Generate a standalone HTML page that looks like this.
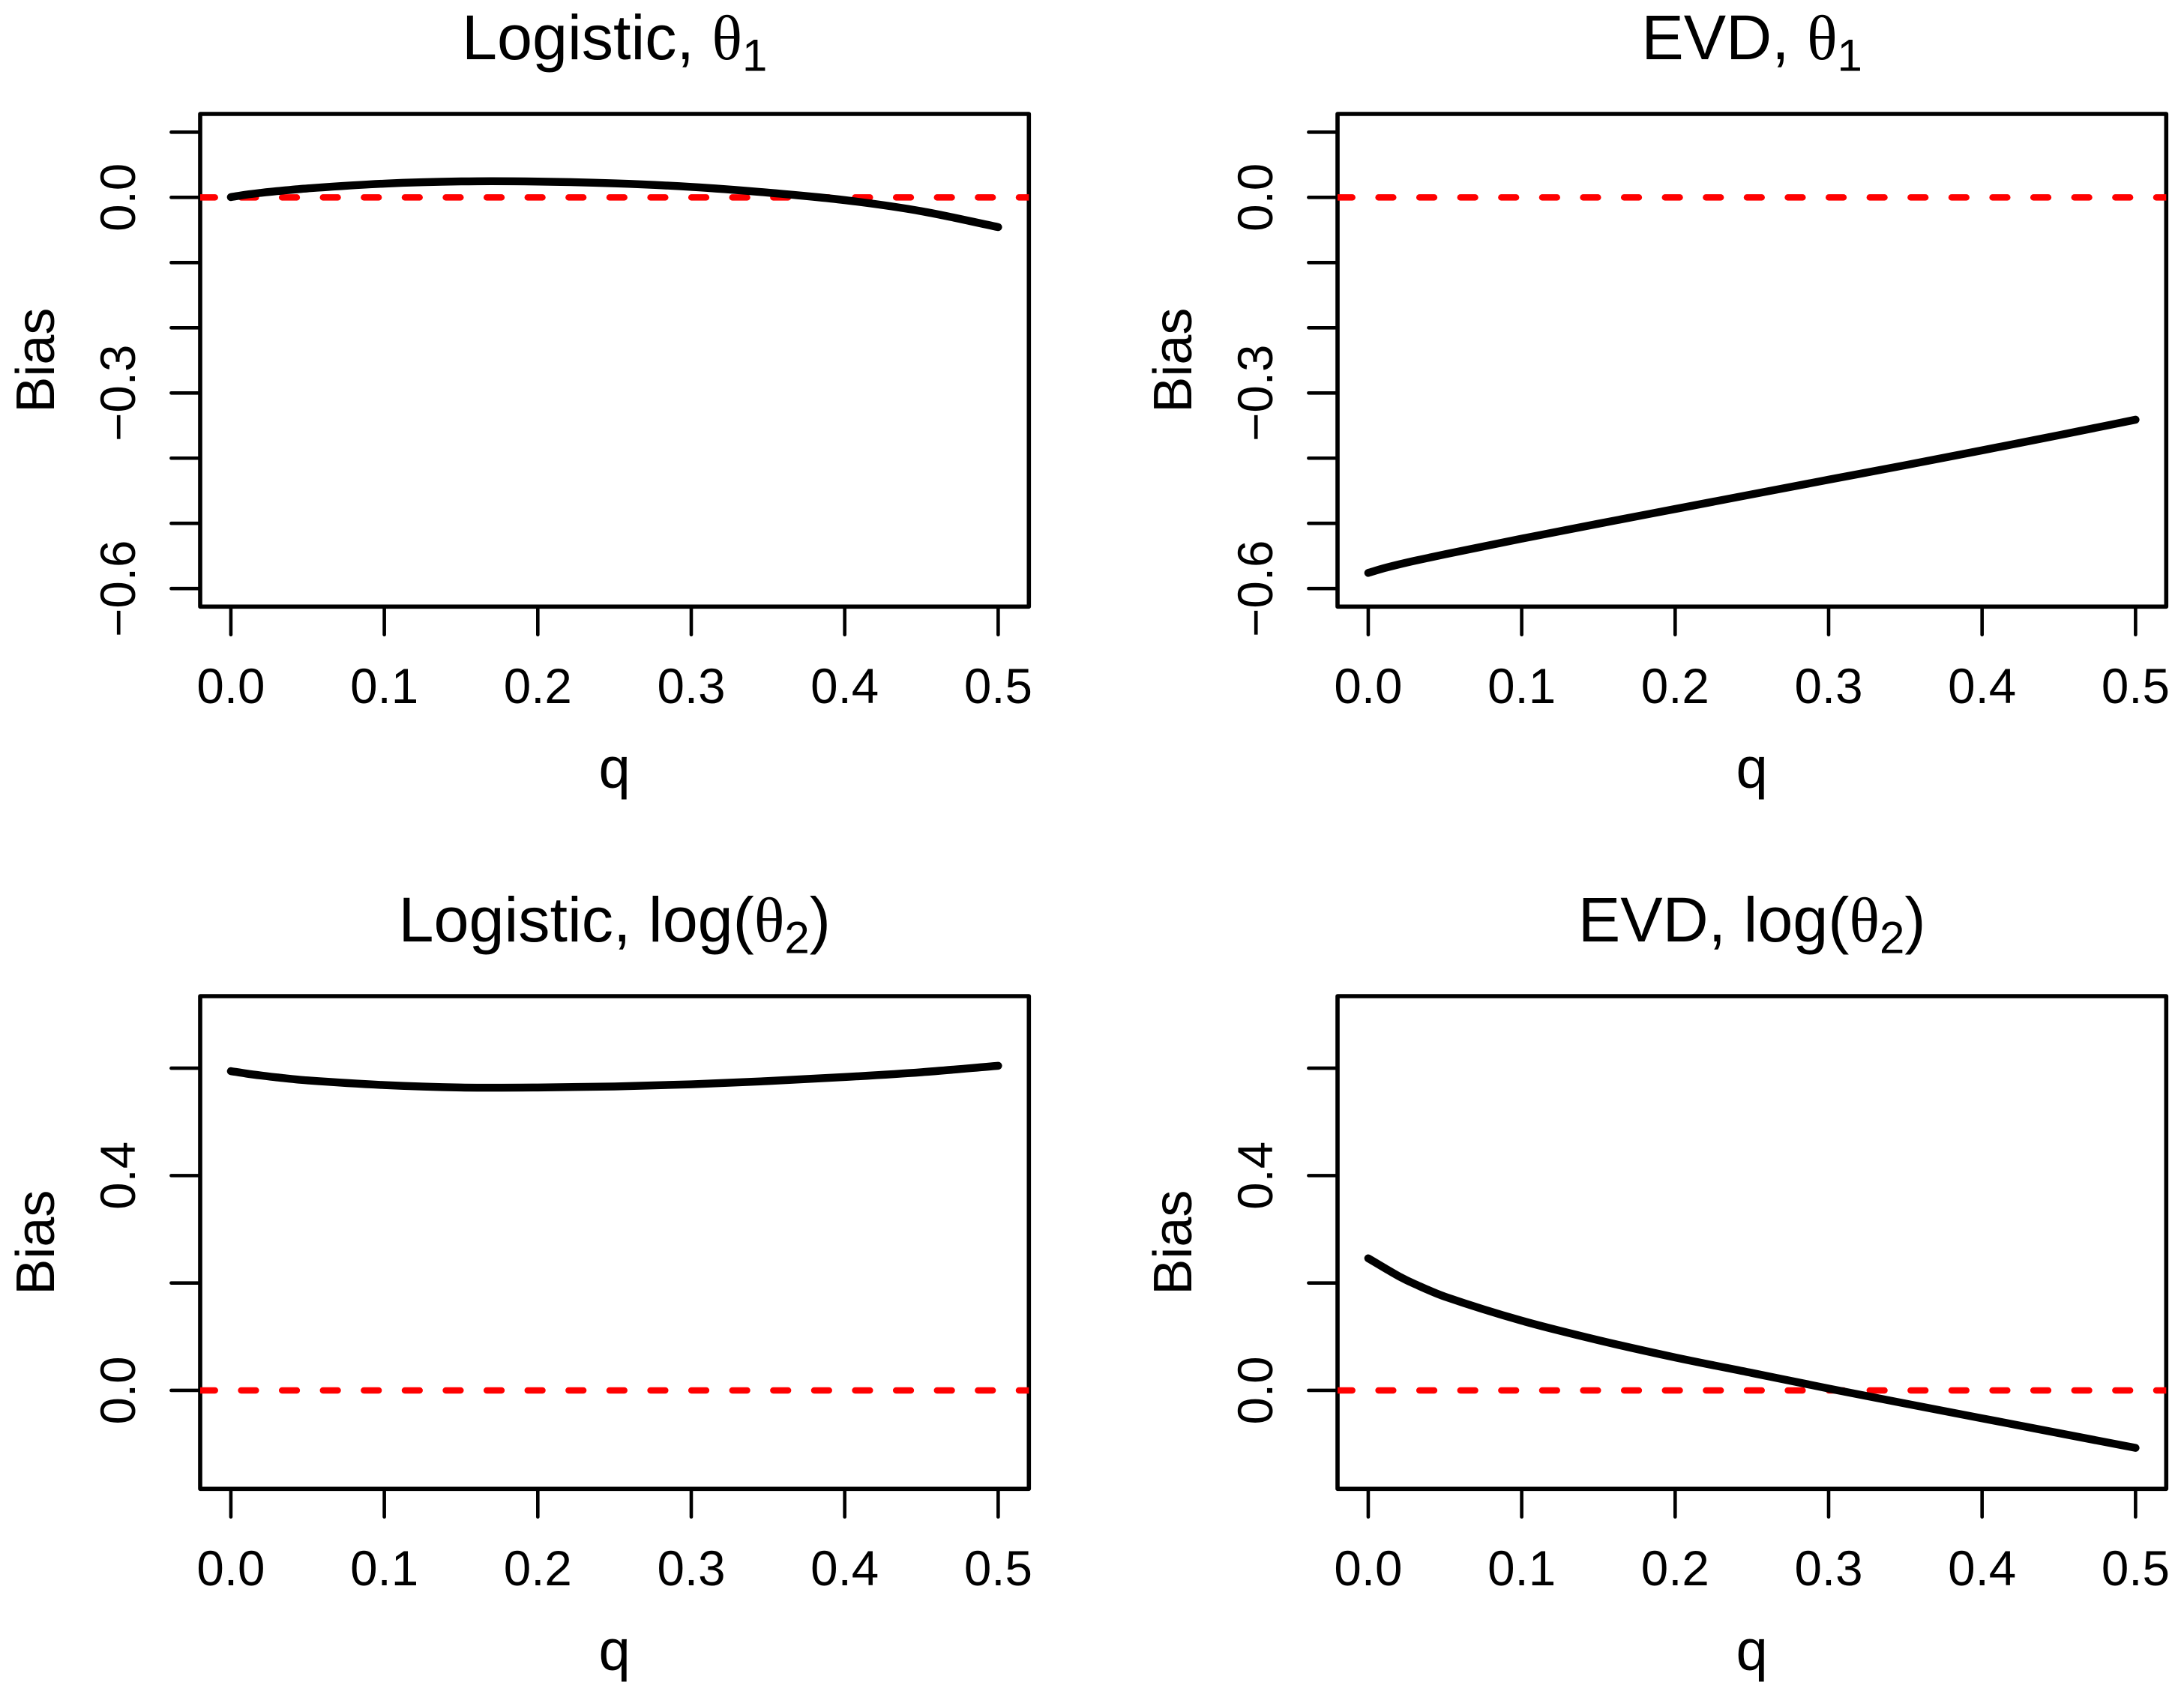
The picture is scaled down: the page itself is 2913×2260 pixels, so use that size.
<!DOCTYPE html>
<html lang="en">
<head>
<meta charset="utf-8">
<title>Bias versus q</title>
<style>
  html, body { margin: 0; padding: 0; background: #fff; }
  body { width: 2913px; height: 2260px; overflow: hidden; }
  svg { display: block; }
  text { font-family: "Liberation Sans", Arial, sans-serif; fill: #000; }
  .theta { font-family: "Liberation Serif", "DejaVu Serif", serif; }
</style>
</head>
<body>
<svg id="figure" xmlns="http://www.w3.org/2000/svg" width="2913" height="2260" viewBox="0 0 2913 2260">
  <rect x="0" y="0" width="2913" height="2260" fill="#fff"></rect>
</svg>
<script>
const qValues = [0, 0.01, 0.02, 0.03, 0.05, 0.1, 0.15, 0.2, 0.25, 0.3, 0.35, 0.4, 0.45, 0.5];
const logisticTheta1 = [0.0004, 0.0042, 0.0071, 0.0096, 0.0138, 0.0211, 0.0245, 0.0243, 0.0215, 0.0161, 0.0073, -0.0042, -0.0212, -0.0456];
const evdTheta1 = [-0.576, -0.569, -0.563, -0.5575, -0.5475, -0.5235, -0.5005, -0.478, -0.4555, -0.433, -0.4108, -0.388, -0.3648, -0.341];
const logisticLogTheta2 = [0.5945, 0.59, 0.5862, 0.5828, 0.5772, 0.5685, 0.564, 0.564, 0.566, 0.57, 0.576, 0.5835, 0.5925, 0.6045];
const evdLogTheta2 = [0.246, 0.229, 0.2125, 0.1985, 0.1745, 0.1298, 0.0935, 0.0614, 0.0325, 0.0035, -0.0245, -0.052, -0.0795, -0.107];

const xTickValues = [0, 0.1, 0.2, 0.3, 0.4, 0.5];
const xTickLabels = ["0.0", "0.1", "0.2", "0.3", "0.4", "0.5"];
const topYTickValues = [0.1, 0, -0.1, -0.2, -0.3, -0.4, -0.5, -0.6];
const topYLabelValues = [0, -0.3, -0.6];
const topYLabels = ["0.0", "\u22120.3", "\u22120.6"];
const bottomYTickValues = [0.6, 0.4, 0.2, 0];
const bottomYLabelValues = [0, 0.4];
const bottomYLabels = ["0.0", "0.4"];
const referenceValue = 0;

const xDomain = [-0.02, 0.52];
const topYDomain = [-0.6277, 0.128];
const bottomYDomain = [-0.1833, 0.7341];

const SVG_NS = "http://www.w3.org/2000/svg";
const figure = document.getElementById("figure");

function make(tag, name, parent) {
  const el = document.createElementNS(SVG_NS, tag);
  
  
  parent.appendChild(el);
  return el;
}

function setAll(el, attrs) {
  Object.keys(attrs).forEach(function (k) { el.setAttribute(k, attrs[k]); });
  return el;
}

function linearScale(domain, range) {
  return function (v) {
    return range[0] + (v - domain[0]) / (domain[1] - domain[0]) * (range[1] - range[0]);
  };
}

function drawTitle(group, cx, baseline, prefix, subscript, closing) {
  const t = make("text", "panel-title", group);
  setAll(t, { x: cx, y: baseline, "text-anchor": "middle", "font-size": 84.5 });
  const a = make("tspan", "title-text", t);
  a.textContent = prefix;
  const th = make("tspan", "title-theta", t);
  th.setAttribute("class", "theta");
  th.textContent = "\u03B8";
  const s = make("tspan", "title-subscript", t);
  setAll(s, { dy: 15.7, "font-size": 60 });
  s.textContent = subscript;
  if (closing) {
    const c = make("tspan", "title-closing-paren", t);
    setAll(c, { dy: -15.7 });
    c.textContent = closing;
  }
}

function drawPanel(cfg, index) {
  const g = make("g", cfg.name, figure);
  const left = cfg.left, right = cfg.left + 1105.3;
  const top = cfg.top, bottom = cfg.top + 657.3;
  const sx = linearScale(xDomain, [left, right]);
  const sy = linearScale(cfg.yDomain, [bottom, top]);

  const clipId = "clip-" + index;
  const clip = make("clipPath", "plot-clip", g);
  clip.setAttribute("id", clipId);
  setAll(make("rect", "plot-clip-rect", clip), { x: left, y: top, width: right - left, height: bottom - top });

  setAll(make("rect", "plot-box", g), {
    x: left, y: top, width: right - left, height: bottom - top,
    fill: "none", stroke: "#000", "stroke-width": 5.6, "stroke-linejoin": "round"
  });

  xTickValues.forEach(function (v, i) {
    const x = sx(v);
    setAll(make("line", "x-tick", g), {
      x1: x, x2: x, y1: bottom, y2: bottom + 37.4,
      stroke: "#000", "stroke-width": 4.6, "stroke-linecap": "round"
    });
    const label = make("text", "x-tick-label", g);
    setAll(label, { x: x, y: bottom + 128.7, "text-anchor": "middle", "font-size": 65.5 });
    label.textContent = xTickLabels[i];
  });

  cfg.yTicks.forEach(function (v) {
    const y = sy(v);
    setAll(make("line", "y-tick", g), {
      x1: left, x2: left - 38.6, y1: y, y2: y,
      stroke: "#000", "stroke-width": 4.6, "stroke-linecap": "round"
    });
  });

  cfg.yLabelValues.forEach(function (v, i) {
    const y = sy(v);
    const label = make("text", "y-tick-label", g);
    setAll(label, {
      x: 0, y: 0, "text-anchor": "middle", "font-size": 65.5,
      transform: "translate(" + (left - 87) + " " + y + ") rotate(-90)"
    });
    label.textContent = cfg.yLabels[i];
  });

  const ry = sy(referenceValue);
  setAll(make("line", "zero-reference-line", g), {
    x1: left, x2: right, y1: ry, y2: ry,
    stroke: "#ff0000", "stroke-width": 8.5, "stroke-dasharray": "19.7 34.9",
    "stroke-linecap": "round", "clip-path": "url(#" + clipId + ")"
  });

  const pts = qValues.map(function (q, i) { return [sx(q), sy(cfg.series[i])]; });
  let d = "M" + pts[0][0] + " " + pts[0][1];
  for (let i = 0; i < pts.length - 1; i++) {
    const p0 = pts[Math.max(i - 1, 0)], p1 = pts[i], p2 = pts[i + 1], p3 = pts[Math.min(i + 2, pts.length - 1)];
    const h = p2[0] - p1[0];
    const m1 = (p2[1] - p0[1]) / (p2[0] - p0[0]);
    const m2 = (p3[1] - p1[1]) / (p3[0] - p1[0]);
    d += " C" + (p1[0] + h / 3) + " " + (p1[1] + m1 * h / 3) + " " + (p2[0] - h / 3) + " " + (p2[1] - m2 * h / 3) + " " + p2[0] + " " + p2[1];
  }
  setAll(make("path", "bias-curve", g), {
    d: d, fill: "none", stroke: "#000", "stroke-width": 10.5,
    "stroke-linecap": "round", "stroke-linejoin": "round"
  });

  drawTitle(g, (left + right) / 2, top - 73, cfg.titlePrefix, cfg.titleSub, cfg.titleClose);

  const xl = make("text", "x-axis-title", g);
  setAll(xl, { x: (left + right) / 2, y: bottom + 241, "text-anchor": "middle", "font-size": 76 });
  xl.textContent = "q";

  const yl = make("text", "y-axis-title", g);
  setAll(yl, {
    x: 0, y: 0, "text-anchor": "middle", "font-size": 72,
    transform: "translate(" + (left - 195) + " " + (top + bottom) / 2 + ") rotate(-90)"
  });
  yl.textContent = "Bias";
}

const panels = [
  { name: "panel-logistic-theta1", left: 267, top: 152, yDomain: topYDomain, yTicks: topYTickValues, yLabelValues: topYLabelValues, yLabels: topYLabels, series: logisticTheta1, titlePrefix: "Logistic, ", titleSub: "1", titleClose: "" },
  { name: "panel-evd-theta1", left: 1784, top: 152, yDomain: topYDomain, yTicks: topYTickValues, yLabelValues: topYLabelValues, yLabels: topYLabels, series: evdTheta1, titlePrefix: "EVD, ", titleSub: "1", titleClose: "" },
  { name: "panel-logistic-log-theta2", left: 267, top: 1329, yDomain: bottomYDomain, yTicks: bottomYTickValues, yLabelValues: bottomYLabelValues, yLabels: bottomYLabels, series: logisticLogTheta2, titlePrefix: "Logistic, log(", titleSub: "2", titleClose: ")" },
  { name: "panel-evd-log-theta2", left: 1784, top: 1329, yDomain: bottomYDomain, yTicks: bottomYTickValues, yLabelValues: bottomYLabelValues, yLabels: bottomYLabels, series: evdLogTheta2, titlePrefix: "EVD, log(", titleSub: "2", titleClose: ")" }
];

panels.forEach(drawPanel);
</script>
</body>
</html>
